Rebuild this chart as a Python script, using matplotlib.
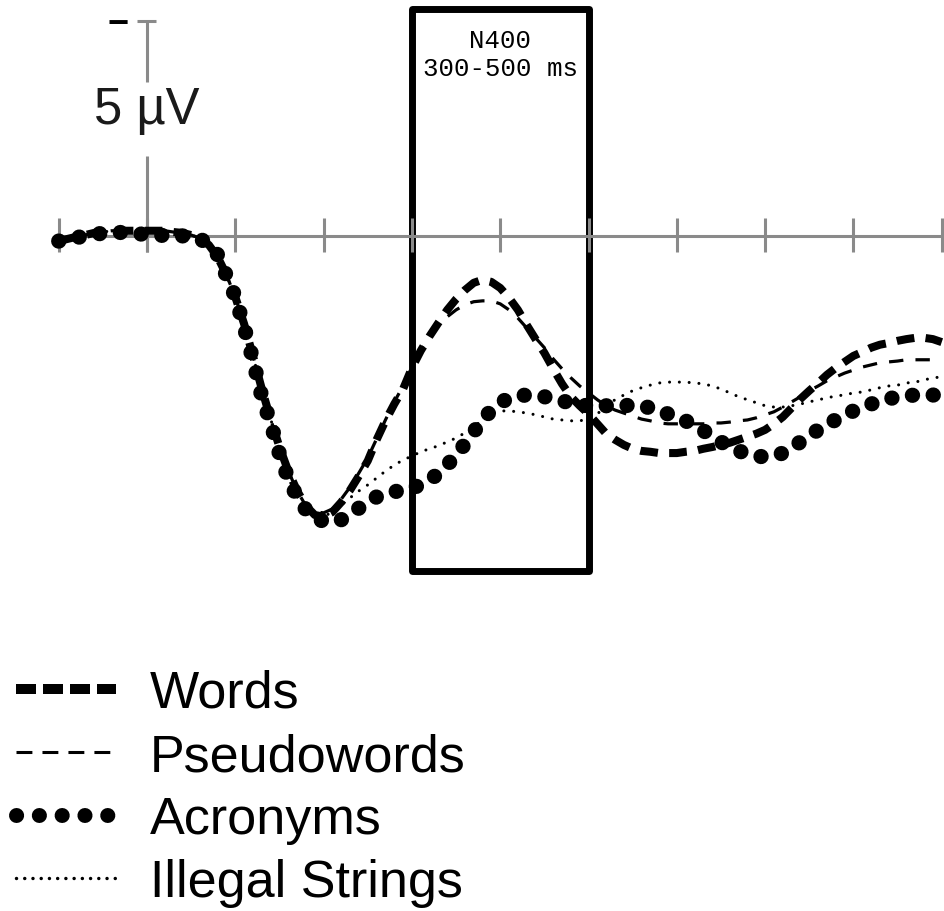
import matplotlib.pyplot as plt
from matplotlib.lines import Line2D
from matplotlib.patches import Rectangle
import numpy as np

# ERP grand averages (µV, negative plotted up), -100..900 ms in 10 ms steps
tempo = np.arange(-100, 901, 10)

base = [0.12, 0.07, 0.02, -0.02, -0.07, -0.09, -0.12, -0.12, -0.12, -0.12,
        -0.12, -0.12, -0.12, -0.09, -0.07, -0.02]          # -100..50 ms
descida = [0.05, 0.21, 0.49, 0.91, 1.42, 2.05, 2.79, 3.56, 4.26, 4.91,
           5.47, 5.93, 6.28]                                # 60..180 ms

words = base + descida + [
    6.49, 6.53, 6.42, 6.19, 5.91, 5.58, 5.23, 4.74, 4.30, 3.91,
    3.56, 3.07, 2.67, 2.33, 2.02, 1.72, 1.47, 1.26, 1.09, 1.02,
    1.07, 1.21, 1.44, 1.72, 2.07, 2.40, 2.72, 3.09, 3.44, 3.74,
    3.95, 4.14, 4.37, 4.60, 4.74, 4.86, 4.95, 5.00, 5.02, 5.05,
    5.05, 5.05, 5.02, 5.00, 4.95, 4.91, 4.86, 4.81, 4.74, 4.67,
    4.60, 4.51, 4.37, 4.21, 4.00, 3.79, 3.60, 3.42, 3.23, 3.07,
    2.93, 2.79, 2.70, 2.60, 2.53, 2.49, 2.44, 2.40, 2.37, 2.37,
    2.40, 2.47]

pseudowords = base + descida + [
    6.42, 6.44, 6.35, 6.12, 5.84, 5.51, 5.16, 4.72, 4.28, 3.86,
    3.49, 3.05, 2.67, 2.35, 2.07, 1.88, 1.72, 1.60, 1.53, 1.51,
    1.51, 1.58, 1.72, 1.91, 2.14, 2.37, 2.60, 2.86, 3.09, 3.30,
    3.49, 3.65, 3.81, 3.95, 4.05, 4.12, 4.19, 4.26, 4.30, 4.35,
    4.37, 4.37, 4.37, 4.37, 4.37, 4.35, 4.35, 4.33, 4.30, 4.28,
    4.23, 4.16, 4.09, 3.98, 3.86, 3.74, 3.60, 3.49, 3.37, 3.28,
    3.19, 3.12, 3.05, 3.00, 2.95, 2.93, 2.91, 2.88, 2.88, 2.88,
    2.88, 2.88]

acronyms = [0.12, 0.08, 0.04, 0.0, -0.04, -0.06, -0.08, -0.08, -0.07, -0.05,
            -0.03, -0.02, -0.01, 0.0, 0.0, 0.0,
            0.07, 0.19, 0.44, 0.93, 1.42, 2.12, 2.88, 3.74, 4.35, 5.07,
            5.65, 6.07, 6.37,
            6.58, 6.63, 6.67, 6.60, 6.47, 6.33, 6.19, 6.07, 6.00, 5.95,
            5.91, 5.86, 5.79, 5.67, 5.53, 5.33, 5.09, 4.84, 4.56, 4.28,
            4.05, 3.88, 3.77, 3.72, 3.70, 3.72, 3.74, 3.79, 3.84, 3.88,
            3.93, 3.95, 3.95, 3.95, 3.95, 3.95, 3.93, 3.95, 4.00, 4.07,
            4.14, 4.21, 4.30, 4.42, 4.53, 4.65, 4.79, 4.91, 5.00, 5.07,
            5.12, 5.14, 5.12, 5.05, 4.93, 4.79, 4.65, 4.51, 4.37, 4.28,
            4.16, 4.07, 3.98, 3.91, 3.84, 3.79, 3.74, 3.72, 3.70, 3.70,
            3.70, 3.72]

illegal = base + descida + [
    6.49, 6.53, 6.42, 6.26, 6.09, 5.93, 5.79, 5.63, 5.47, 5.33,
    5.21, 5.12, 5.02, 4.95, 4.88, 4.79, 4.70, 4.58, 4.44, 4.28,
    4.14, 4.07, 4.07, 4.09, 4.12, 4.16, 4.21, 4.26, 4.28, 4.30,
    4.30, 4.26, 4.14, 3.95, 3.81, 3.70, 3.60, 3.53, 3.47, 3.42,
    3.40, 3.40, 3.40, 3.42, 3.44, 3.49, 3.56, 3.65, 3.74, 3.81,
    3.88, 3.95, 3.98, 3.98, 3.95, 3.91, 3.86, 3.81, 3.77, 3.72,
    3.70, 3.65, 3.63, 3.58, 3.53, 3.49, 3.47, 3.42, 3.40, 3.35,
    3.30, 3.28]

nomes = ['Words', 'Pseudowords', 'Acronyms', 'Illegal Strings']
ticks = np.arange(-100, 901, 100)
janela = (300, 500)   # N400 window, ms

cinza = '#8a8a8a'
fonte = 'Liberation Sans'

fig = plt.figure(figsize=(9.45, 9.12), dpi=100)
ax = fig.add_axes([0, 0, 1, 1])
ax.set_xlim(-166.5, 903.7)
ax.set_ylim(15.70, -5.51)   # negative up
ax.axis('off')

# eixos cinza
ax.hlines(0, -100, 910, color=cinza, lw=2.2)
ax.vlines(ticks, -0.42, 0.37, color=cinza, lw=2.2)
ax.vlines(0, -5, -3.58, color=cinza, lw=2.2)
ax.vlines(0, -1.86, 0.37, color=cinza, lw=2.2)
ax.hlines(-5, -11, 10, color=cinza, lw=2.2)
ax.text(-33, -4.95, '−', ha='center', va='center', fontsize=26,
        fontweight='bold', family=fonte)
ax.text(0, -2.93, '5 µV', ha='center', va='center', fontsize=36.5,
        family=fonte, color='#1a1a1a')

# curvas
ax.plot(tempo, words, color='k', lw=5.8, linestyle=(0, (2.2, 1.4)),
        dash_capstyle='butt')
ax.plot(tempo, pseudowords, color='k', lw=2.3, linestyle=(0, (4.5, 3.8)),
        dash_capstyle='butt')
ax.plot(tempo, acronyms, color='k', lw=11, linestyle=(0, (0.01, 1.35)),
        dash_capstyle='round')
ax.plot(tempo, illegal, color='k', lw=2.2, linestyle=(0, (0.01, 3.2)),
        dash_capstyle='round')

# janela N400
ax.add_patch(Rectangle((janela[0], -5.27), janela[1] - janela[0], 13.06,
                       fill=False, edgecolor='k', lw=5, joinstyle='round'))
ax.text((janela[0] + janela[1]) / 2, -4.24,
        'N400\n%d-%d ms' % janela, ha='center', va='center',
        fontsize=18.5, family='Liberation Mono', linespacing=1.2)

# legenda
handles = [
    Line2D([], [], color='k', lw=7.2, linestyle=(0, (2.0, 0.7)), dash_capstyle='butt'),
    Line2D([], [], color='k', lw=2.2, linestyle=(0, (5.2, 3.3)), dash_capstyle='butt'),
    Line2D([], [], color='k', lw=10.8, linestyle=(0, (0.01, 1.51)), dash_capstyle='round'),
    Line2D([], [], color='k', lw=2.5, linestyle=(0, (0.01, 2.36)), dash_capstyle='round'),
]
fig.legend(handles, nomes, loc='upper left', bbox_to_anchor=(16 / 945, 1 - 670 / 912),
           frameon=False, borderpad=0, borderaxespad=0,
           handlelength=1.92, handletextpad=0.65, labelspacing=0.27,
           prop={'family': fonte, 'size': 37.5})

fig.savefig('out.png', dpi=100)
